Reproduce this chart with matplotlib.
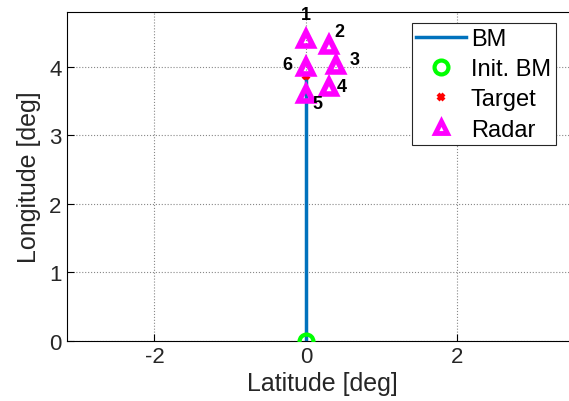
import matplotlib
matplotlib.use("Agg")
import matplotlib.pyplot as plt
import numpy as np

plt.rcParams['font.family'] = ['Liberation Sans', 'DejaVu Sans']
plt.rcParams['axes.unicode_minus'] = False

# Ballistic missile track (lat, lon in deg)
bm_lat = [0.0, 0.0]
bm_lon = [0.0, 3.87]
init_lat, init_lon = 0.0, 0.0
target_lat, target_lon = 0.0, 3.87

# Radar sites
radar_id = ['1', '2', '3', '4', '5', '6']
radar_lat = [0.0, 0.3, 0.4, 0.3, 0.0, 0.0]
radar_lon = [4.41, 4.32, 4.03, 3.71, 3.60, 4.00]
label_dx = [0.0, 0.14, 0.24, 0.17, 0.15, -0.24]
label_dy = [0.36, 0.2, 0.08, 0.0, -0.14, 0.04]

fig = plt.figure(figsize=(5.69, 4.02), dpi=100)
ax = fig.add_axes([0.117, 0.15, 0.9, 0.817])

ax.plot(bm_lat, bm_lon, color='#0072BD', lw=2.5, label='BM', zorder=3)
ax.plot(init_lat, init_lon, 'o', mfc='none', mec='#00FF00', mew=3, ms=10,
        label='Init. BM', zorder=4)
ax.plot(target_lat, target_lon, 'x', color='red', mew=3, ms=5,
        label='Target', zorder=4)
ax.plot(radar_lat, radar_lon, '^', mfc='none', mec='magenta', mew=4, ms=10,
        ls='none', label='Radar', zorder=5)

for i in range(len(radar_id)):
    ax.text(radar_lat[i] + label_dx[i], radar_lon[i] + label_dy[i], radar_id[i],
            fontsize=13, fontweight='bold', ha='center', va='center', zorder=6)

ax.set_xlim(-3.16, 3.6)
ax.set_ylim(0, 4.8)
ax.set_xticks([-2, 0, 2])
ax.set_yticks([0, 1, 2, 3, 4])
ax.tick_params(direction='in', labelsize=16, length=5, color='black')
ax.grid(True, color='#888888', ls=':', lw=0.8)
for s in ax.spines.values():
    s.set_color('black')
ax.set_xlabel('Latitude [deg]', fontsize=18, labelpad=3, color='#262626')
ax.set_ylabel('Longitude [deg]', fontsize=18, labelpad=6, color='#262626')
for lab in ax.get_xticklabels() + ax.get_yticklabels():
    lab.set_color('#262626')

leg = ax.legend(loc='upper left', bbox_to_anchor=(0.674, 0.967), fontsize=17,
                fancybox=False, edgecolor='#262626', framealpha=1,
                handlelength=2.1, borderpad=0.2, labelspacing=0.35,
                handletextpad=0.2, borderaxespad=0.0)
leg.get_frame().set_linewidth(0.8)
for h in leg.legend_handles[3:]:
    h.set_markersize(8)
    h.set_markeredgewidth(3.5)

fig.savefig('out.png', dpi=100)
